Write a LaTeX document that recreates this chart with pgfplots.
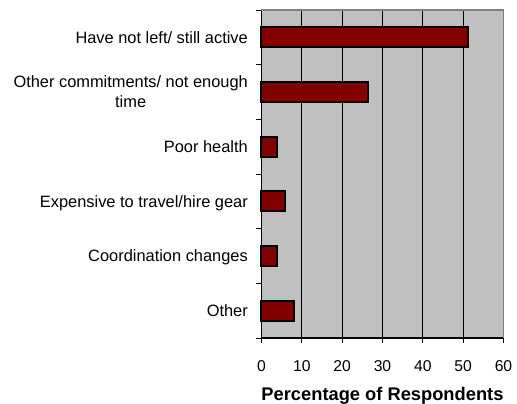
\documentclass[border=0pt]{standalone}
\usepackage{fontspec}
\setmainfont{Liberation Sans}
\usepackage{pgfplots}
\pgfplotsset{compat=1.18}
\definecolor{barRed}{RGB}{128,0,0}
\definecolor{plotGray}{RGB}{192,192,192}
\definecolor{frameGray}{RGB}{128,128,128}
% line strut with the ascent and descent of the sans font
\newcommand\ls{\rule[-0.212em]{0pt}{1.117em}}
\begin{document}
\begin{tikzpicture}
\useasboundingbox (-261.5pt,-66pt) rectangle (255.5pt,338pt);
\begin{axis}[
  scale only axis, width=242pt, height=328pt,
  xbar, bar width=20pt, bar shift=0pt,
  xmin=0, xmax=60, ymin=-0.5, ymax=5.5,
  xtick={0,10,...,60},
  ytick={0,...,5},
  yticklabels={
    {\ls Other},
    {\ls Coordination changes},
    {\ls Expensive to travel/hire gear},
    {\ls Poor health},
    {\ls Other commitments/ not enough\\\ls time},
    {\ls Have not left/ still active}},
  minor ytick={-0.5,0.5,...,5.5},
  tick align=outside, major tick length=5pt, minor tick length=5pt,
  every major y tick/.append style={draw=none},
  every tick/.append style={black, line width=0.8pt},
  xmajorgrids, grid style={black, line width=0.8pt},
  axis lines*=left, axis line style={-, black, line width=1.6pt},
  axis background/.style={fill=plotGray},
  clip=false,
  /pgf/number format/assume math mode=true,
  xticklabel style={font=\fontsize{15.7}{18}\selectfont, anchor=north, inner sep=0pt},
  xticklabel shift=17pt,
  yticklabel style={font=\fontsize{16.4}{20.6}\selectfont, align=center, anchor=east, inner sep=0pt, xshift=-8.5pt},
  xlabel={Percentage of Respondents},
  xlabel style={at={(axis description cs:0.5,0)}, anchor=base, inner sep=0pt, yshift=-63pt,
    font=\bfseries\fontsize{18.3}{20}\selectfont},
]
\addplot[fill=barRed, draw=black, line width=2pt]
  coordinates {(8.0,0) (3.8,1) (5.9,2) (3.8,3) (26.4,4) (51.2,5)};
\draw[frameGray, line width=1.8pt]
  (axis description cs:0,1) -- (axis description cs:1,1) -- (axis description cs:1,0);
\end{axis}
\end{tikzpicture}
\end{document}
